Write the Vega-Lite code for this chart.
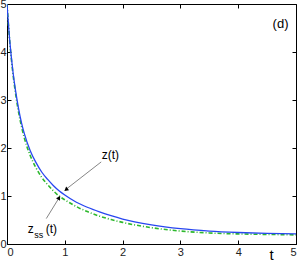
{
  "$schema": "https://vega.github.io/schema/vega-lite/v6.json",
  "width": 289,
  "height": 240,
  "autosize": {"type": "none"},
  "padding": {"left": 7, "top": 4, "right": 4, "bottom": 19},
  "background": "white",
  "config": {
    "view": {"stroke": "black", "strokeWidth": 1},
    "font": "Liberation Sans",
    "axis": {
      "grid": false,
      "domainColor": "black",
      "tickColor": "black",
      "labelColor": "#222",
      "labelFont": "Liberation Sans",
      "labelFontSize": 11,
      "tickSize": -4,
      "tickWidth": 1,
      "format": "d",
      "title": null
    }
  },
  "datasets": {
    "z": [
      {"t": 0, "v": 5.0}, {"t": 0.05, "v": 4.2}, {"t": 0.1, "v": 3.62}, {"t": 0.15, "v": 3.18},
      {"t": 0.2, "v": 2.82}, {"t": 0.25, "v": 2.53}, {"t": 0.3, "v": 2.3}, {"t": 0.4, "v": 1.95},
      {"t": 0.5, "v": 1.7}, {"t": 0.6, "v": 1.5}, {"t": 0.7, "v": 1.35}, {"t": 0.8, "v": 1.22},
      {"t": 0.9, "v": 1.11}, {"t": 1.0, "v": 1.02}, {"t": 1.2, "v": 0.87}, {"t": 1.4, "v": 0.76},
      {"t": 1.6, "v": 0.67}, {"t": 1.8, "v": 0.59}, {"t": 2.0, "v": 0.52}, {"t": 2.5, "v": 0.4},
      {"t": 3.0, "v": 0.32}, {"t": 3.5, "v": 0.27}, {"t": 4.0, "v": 0.24}, {"t": 4.5, "v": 0.22},
      {"t": 5.0, "v": 0.21}
    ],
    "zss": [
      {"t": 0, "v": 5.0}, {"t": 0.05, "v": 4.18}, {"t": 0.1, "v": 3.58}, {"t": 0.15, "v": 3.12},
      {"t": 0.2, "v": 2.75}, {"t": 0.25, "v": 2.45}, {"t": 0.3, "v": 2.21}, {"t": 0.4, "v": 1.85},
      {"t": 0.5, "v": 1.59}, {"t": 0.6, "v": 1.39}, {"t": 0.7, "v": 1.24}, {"t": 0.8, "v": 1.11},
      {"t": 0.9, "v": 1.0}, {"t": 1.0, "v": 0.92}, {"t": 1.2, "v": 0.78}, {"t": 1.4, "v": 0.67},
      {"t": 1.6, "v": 0.58}, {"t": 1.8, "v": 0.51}, {"t": 2.0, "v": 0.45}, {"t": 2.5, "v": 0.34},
      {"t": 3.0, "v": 0.27}, {"t": 3.5, "v": 0.23}, {"t": 4.0, "v": 0.21}, {"t": 4.5, "v": 0.2},
      {"t": 5.0, "v": 0.19}
    ],
    "arrows": [
      {"t1": 1.63, "v1": 1.71, "t2": 1.0, "v2": 1.12},
      {"t1": 0.68, "v1": 0.53, "t2": 0.91, "v2": 0.98}
    ],
    "heads": [
      {"t": 1.03, "v": 1.14, "ang": 232},
      {"t": 0.895, "v": 0.95, "ang": 32}
    ],
    "labels": [
      {"t": 1.64, "v": 1.78, "txt": "z(t)", "size": 12},
      {"t": 0.36, "v": 0.22, "txt": "z", "size": 12},
      {"t": 0.47, "v": 0.13, "txt": "ss", "size": 9},
      {"t": 0.67, "v": 0.22, "txt": "(t)", "size": 12},
      {"t": 4.54, "v": -0.33, "txt": "t", "size": 15}
    ],
    "corner": [
      {"t": 4.87, "v": 4.5, "txt": "(d)"}
    ]
  },
  "layer": [
    {
      "layer": [
        {
          "data": {"name": "zss"},
          "mark": {"type": "line", "color": "#2eb82e", "strokeWidth": 1.6, "strokeDash": [4, 2, 1, 2], "interpolate": "monotone", "clip": true},
          "encoding": {
            "x": {"field": "t", "type": "quantitative", "scale": {"domain": [0, 5], "nice": false, "zero": false}, "axis": {"values": [0, 1, 2, 3, 4, 5], "labelPadding": 6}},
            "y": {"field": "v", "type": "quantitative", "scale": {"domain": [0, 5], "nice": false, "zero": false}, "axis": {"values": [0, 1, 2, 3, 4, 5], "labelPadding": 5}}
          }
        },
        {
          "data": {"name": "z"},
          "mark": {"type": "line", "color": "#2846f0", "strokeWidth": 1.3, "interpolate": "monotone", "clip": true},
          "encoding": {
            "x": {"field": "t", "type": "quantitative"},
            "y": {"field": "v", "type": "quantitative"}
          }
        },
        {
          "data": {"name": "arrows"},
          "mark": {"type": "rule", "color": "#777", "strokeWidth": 0.9},
          "encoding": {
            "x": {"field": "t1", "type": "quantitative"},
            "y": {"field": "v1", "type": "quantitative"},
            "x2": {"field": "t2"},
            "y2": {"field": "v2"}
          }
        },
        {
          "data": {"name": "heads"},
          "mark": {"type": "point", "shape": "triangle", "filled": true, "color": "black", "size": 22, "opacity": 1},
          "encoding": {
            "x": {"field": "t", "type": "quantitative"},
            "y": {"field": "v", "type": "quantitative"},
            "angle": {"field": "ang", "type": "quantitative", "scale": null}
          }
        },
        {
          "data": {"name": "labels"},
          "mark": {"type": "text", "align": "left", "baseline": "alphabetic", "color": "black", "font": "Liberation Sans"},
          "encoding": {
            "x": {"field": "t", "type": "quantitative"},
            "y": {"field": "v", "type": "quantitative"},
            "text": {"field": "txt"},
            "size": {"field": "size", "type": "quantitative", "scale": null}
          }
        },
        {
          "data": {"name": "corner"},
          "mark": {"type": "text", "align": "right", "baseline": "alphabetic", "color": "black", "font": "Liberation Sans", "fontSize": 13},
          "encoding": {
            "x": {"field": "t", "type": "quantitative"},
            "y": {"field": "v", "type": "quantitative"},
            "text": {"field": "txt"}
          }
        }
      ]
    },
    {
      "data": {"name": "z"},
      "mark": {"type": "line", "opacity": 0},
      "encoding": {
        "x": {"field": "t", "type": "quantitative", "scale": {"domain": [0, 5], "nice": false, "zero": false}, "axis": {"orient": "top", "values": [0, 1, 2, 3, 4, 5], "labels": false, "domain": false, "tickSize": -4}},
        "y": {"field": "v", "type": "quantitative", "scale": {"domain": [0, 5], "nice": false, "zero": false}, "axis": {"orient": "right", "values": [0, 1, 2, 3, 4, 5], "labels": false, "domain": false, "tickSize": -4}}
      }
    }
  ],
  "resolve": {"scale": {"x": "independent", "y": "independent"}, "axis": {"x": "independent", "y": "independent"}}
}
